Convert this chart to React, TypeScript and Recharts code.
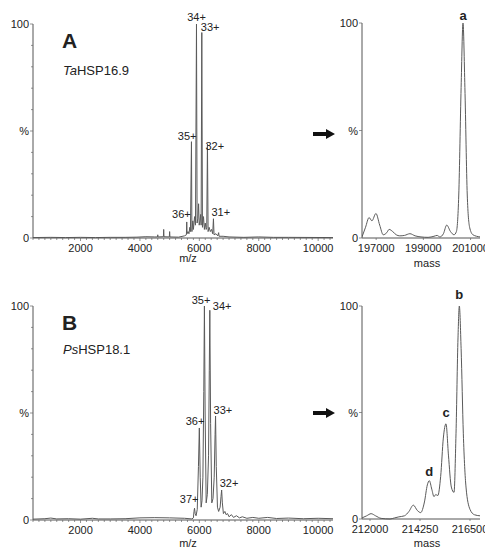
import { LineChart, Line, XAxis, YAxis, ReferenceDot } from "recharts";

// Native MS of two sHSP oligomers: m/z spectra (left) and deconvoluted mass (right).

const taMz = [
  400, 1000, 1500, 2000, 2500, 3000, 3500, 3900, 4200, 4500, 4590, 4600, 4610, 4790, 4800, 4810,
  4990, 5000, 5010, 5300, 5500, 5565, 5576, 5587, 5620, 5650, 5680, 5700, 5735, 5750, 5780, 5800,
  5840, 5870, 5904, 5925, 5950, 5975, 5995, 6020, 6045, 6060, 6083, 6105, 6140, 6170, 6200, 6230,
  6250, 6273, 6295, 6330, 6370, 6410, 6450, 6475, 6495, 6560, 6620, 6650, 6665, 6800, 7000, 7500,
  8000, 8500, 9000, 10500,
];
const taInt = [
  0.2, 0.3, 0.2, 0.3, 0.2, 0.3, 0.3, 0.4, 0.6, 0.5, 0.5, 1.5, 0.5, 0.6, 4, 0.6,
  0.5, 3, 0.5, 0.4, 1, 1.5, 7.5, 2, 3, 2, 5, 3, 45, 3, 8, 4,
  10, 6, 100, 7, 9, 16, 6, 8, 11, 6, 96, 5, 10, 4, 7, 4,
  5, 44, 3, 5, 3, 4, 2, 9, 1.5, 2, 1, 2.5, 0.8, 0.8, 0.5, 0.3,
  0.5, 0.3, 0.3, 0.2,
];

const psMz = [
  400, 800, 1000, 1200, 1600, 2000, 2400, 2600, 3000, 3500, 4000, 4500, 5000, 5500, 5750, 5800,
  5820, 5838, 5860, 5890, 5930, 5970, 6000, 6030, 6060, 6090, 6120, 6150, 6171, 6195, 6230, 6270,
  6310, 6335, 6353, 6380, 6420, 6460, 6500, 6530, 6546, 6570, 6610, 6650, 6700, 6730, 6751, 6775,
  6810, 6860, 6900, 6950, 7000, 7080, 7150, 7250, 7350, 7450, 7600, 7800, 8000, 8300, 8600, 9000,
  9500, 10000, 10500,
];
const psInt = [
  0.4, 0.6, 0.9, 0.5, 0.6, 0.4, 0.8, 0.5, 0.5, 0.6, 1.0, 1.1, 1.0, 0.8, 0.5, 1,
  4, 5.5, 3, 2, 5, 25, 43, 20, 6, 9, 20, 60, 100, 50, 8, 12,
  30, 70, 98, 45, 8, 10, 20, 40, 48.6, 25, 6, 4, 6, 11, 14, 8,
  3, 4, 2.5, 3, 1.5, 2.5, 1.2, 2, 1, 1.5, 0.8, 1.2, 0.8, 1.2, 0.7, 0.9,
  0.6, 0.8, 0.6,
];

const taMass = [
  196400, 196550, 196700, 196820, 196990, 197150, 197300, 197450, 197550, 197700, 197850, 198000,
  198200, 198430, 198650, 198900, 199200, 199450, 199580, 199700, 199850, 199990, 200150, 200300,
  200400, 200500, 200600, 200680, 200760, 200860, 200960, 201100, 201400,
];
const taMassInt = [
  0.5, 5, 9.5, 8, 11.4, 6, 1.5, 2.5, 4, 3, 1.5, 1,
  1.2, 2, 1, 0.5, 0.3, 0.8, 1.2, 0.5, 2, 6, 3, 1.5,
  3, 20, 70, 100, 70, 20, 5, 1.5, 0.5,
];

const psMass = [
  211640, 211850, 212050, 212250, 212500, 212900, 213100, 213300, 213550, 213750, 213950, 214130,
  214280, 214450, 214580, 214670, 214780, 214880, 214960, 215050, 215180, 215300, 215420, 215530,
  215660, 215780, 215870, 215960, 216020, 216100, 216200, 216320, 216500, 216700, 216950,
];
const psMassInt = [
  0.5, 1.5, 2.5, 1.5, 0.3, 0, 0.5, 1, 1.5, 3.5, 6.5, 4,
  3, 8, 16, 18, 14, 10.5, 11.5, 11, 20, 38, 44.7, 30,
  15, 12.5, 40, 85, 100, 80, 40, 15, 4.5, 2, 1.5,
];

const mzTicks = Array.from({ length: 51 }, (_, i) => 400 + i * 200);
const mzLabels = [2000, 4000, 6000, 8000, 10000];
const taMassTicks = [197000, 199000, 201000];
const psMassTicks = [212000, 214250, 216500];
const pctMinor = [0, 10, 20, 30, 40, 50, 60, 70, 80, 90, 100];

// peak annotations: [x, y, text, anchor, dx, dy]
type Ann = [number, number, string, "start" | "middle" | "end", number, number];
const taPeaks: Ann[] = [
  [5904, 100, "34+", "middle", 0, -3],
  [6083, 96, "33+", "start", -1, -2],
  [5735, 45, "35+", "end", 5, -2],
  [6273, 44, "32+", "start", -2, 6],
  [5576, 7.5, "36+", "end", 4, -4],
  [6475, 9, "31+", "start", -2, -3],
];
const psPeaks: Ann[] = [
  [6171, 100, "35+", "end", 6, -2],
  [6353, 98, "34+", "start", 3, 0],
  [6000, 43, "36+", "end", 5, -3],
  [6546, 48.6, "33+", "start", -2, -2],
  [6751, 14, "32+", "start", -2, -3],
  [5838, 5.5, "37+", "end", 4, -5],
];
const taMassPeaks: Ann[] = [[200680, 100, "a", "middle", 0, -3]];
const psMassPeaks: Ann[] = [
  [216020, 100, "b", "middle", 0, -7],
  [215420, 44.7, "c", "middle", 0, -7],
  [214670, 18, "d", "middle", 0, -5],
];

const FONT = '"Liberation Sans", Arial, sans-serif';
const INK = "#222";
const LINE = "#5a5a5a";

const zip = (xs: number[], ys: number[]) => xs.map((x, i) => ({ x, v: ys[i] }));

function MzTick(props: any) {
  const { x, y, payload } = props;
  const major = mzLabels.includes(payload.value);
  return (
    <g>
      <line x1={x} x2={x} y1={y} y2={y + (major ? 3 : 2)} stroke="#666" strokeWidth={0.7} />
      {major && (
        <text x={x} y={y + 14} textAnchor="middle" fontSize={11} fill={INK} fontFamily={FONT}>
          {payload.value}
        </text>
      )}
    </g>
  );
}

function MassTick(props: any) {
  const { x, y, payload } = props;
  return (
    <g>
      <line x1={x} x2={x} y1={y} y2={y + 2} stroke="#666" strokeWidth={0.7} />
      <text x={x} y={y + 14} textAnchor="middle" fontSize={11} fill={INK} fontFamily={FONT}>
        {payload.value}
      </text>
    </g>
  );
}

function PctTick(props: any) {
  const { x, y, payload } = props;
  const v = payload.value;
  const major = v === 0 || v === 50 || v === 100;
  const label = v === 0 ? "0" : v === 100 ? "100" : v === 50 ? "%" : "";
  return (
    <g>
      <line x1={x - (major ? 3 : 2)} x2={x} y1={y} y2={y} stroke="#666" strokeWidth={0.7} />
      {label && (
        <text x={x - 4} y={y + 4} textAnchor="end" fontSize={11} fill={INK} fontFamily={FONT}>
          {label}
        </text>
      )}
    </g>
  );
}

function annLabel(a: Ann, bold: boolean) {
  const [px, py, txt, anchor, dx, dy] = a;
  return (
    <ReferenceDot
      key={txt}
      x={px}
      y={py}
      r={0}
      ifOverflow="visible"
      shape={(p: any) => (
        <text
          x={p.cx + dx}
          y={p.cy + dy}
          textAnchor={anchor}
          fontSize={bold ? 13 : 11}
          fontWeight={bold ? "bold" : "normal"}
          fill={INK}
          fontFamily={FONT}
        >
          {txt}
        </text>
      )}
    />
  );
}

function Panel(props: {
  left: number;
  top: number;
  width: number;
  height: number;
  marginTop: number;
  data: { x: number; v: number }[];
  domain: [number, number];
  ticks: number[];
  tick: any;
  yTicks: number[];
  curve: "linear" | "monotone";
  anns: Ann[];
  bold: boolean;
}) {
  const p = props;
  return (
    <div style={{ position: "absolute", left: p.left, top: p.top }}>
      <LineChart
        width={p.width}
        height={p.height}
        data={p.data}
        margin={{ top: p.marginTop, right: p.width > 200 ? 7 : 5, bottom: 0, left: 0 }}
      >
        <XAxis
          dataKey="x"
          type="number"
          domain={p.domain}
          allowDataOverflow
          ticks={p.ticks}
          interval={0}
          tick={p.tick}
          tickLine={false}
          tickSize={0}
          tickMargin={0}
          height={24}
          stroke="#555"
        />
        <YAxis
          type="number"
          domain={[0, 100]}
          ticks={p.yTicks}
          interval={0}
          tick={<PctTick />}
          tickLine={false}
          tickSize={0}
          tickMargin={0}
          width={p.width > 200 ? 33 : 32}
          stroke="#555"
        />
        <Line
          type={p.curve}
          dataKey="v"
          stroke={LINE}
          strokeWidth={1}
          dot={false}
          isAnimationActive={false}
        />
        {p.anns.map((a) => annLabel(a, p.bold))}
      </LineChart>
    </div>
  );
}

function Arrow({ y }: { y: number }) {
  return <polygon points={`313,${y - 2} 326,${y - 2} 326,${y - 5} 335,${y} 326,${y + 5} 326,${y + 2} 313,${y + 2}`} fill="#111" />;
}

export default function App() {
  const txt = { fontFamily: FONT, fill: INK };
  return (
    <div style={{ position: "absolute", left: 0, top: 0, width: 488, height: 549, background: "#fff", fontFamily: FONT }}>
      <Panel left={0} top={0} width={340} height={262} marginTop={24} data={zip(taMz, taInt)} domain={[400, 10500]}
        ticks={mzTicks} tick={<MzTick />} yTicks={pctMinor} curve="linear" anns={taPeaks} bold={false} />
      <Panel left={0} top={282} width={340} height={262} marginTop={24} data={zip(psMz, psInt)} domain={[400, 10500]}
        ticks={mzTicks} tick={<MzTick />} yTicks={pctMinor} curve="linear" anns={psPeaks} bold={false} />
      <Panel left={330} top={0} width={155} height={262} marginTop={23} data={zip(taMass, taMassInt)} domain={[196400, 201400]}
        ticks={taMassTicks} tick={<MassTick />} yTicks={[0, 50, 100]} curve="monotone" anns={taMassPeaks} bold={true} />
      <Panel left={330} top={282} width={155} height={261} marginTop={24} data={zip(psMass, psMassInt)} domain={[211640, 216950]}
        ticks={psMassTicks} tick={<MassTick />} yTicks={[0, 50, 100]} curve="monotone" anns={psMassPeaks} bold={true} />
      <svg width={488} height={549} style={{ position: "absolute", left: 0, top: 0, pointerEvents: "none" }}>
        <text x={62} y={48} fontSize={21} fontWeight="bold" {...txt}>A</text>
        <text x={63} y={75} fontSize={13} {...txt}><tspan fontStyle="italic">Ta</tspan>HSP16.9</text>
        <text x={62} y={330} fontSize={21} fontWeight="bold" {...txt}>B</text>
        <text x={63} y={354} fontSize={13} {...txt}><tspan fontStyle="italic">Ps</tspan>HSP18.1</text>
        <text x={188} y={262} fontSize={11} textAnchor="middle" {...txt}>m/z</text>
        <text x={427} y={267} fontSize={11} textAnchor="middle" {...txt}>mass</text>
        <text x={188} y={547} fontSize={11} textAnchor="middle" {...txt}>m/z</text>
        <text x={427} y={547} fontSize={11} textAnchor="middle" {...txt}>mass</text>
        <Arrow y={134} />
        <Arrow y={413} />
      </svg>
    </div>
  );
}
